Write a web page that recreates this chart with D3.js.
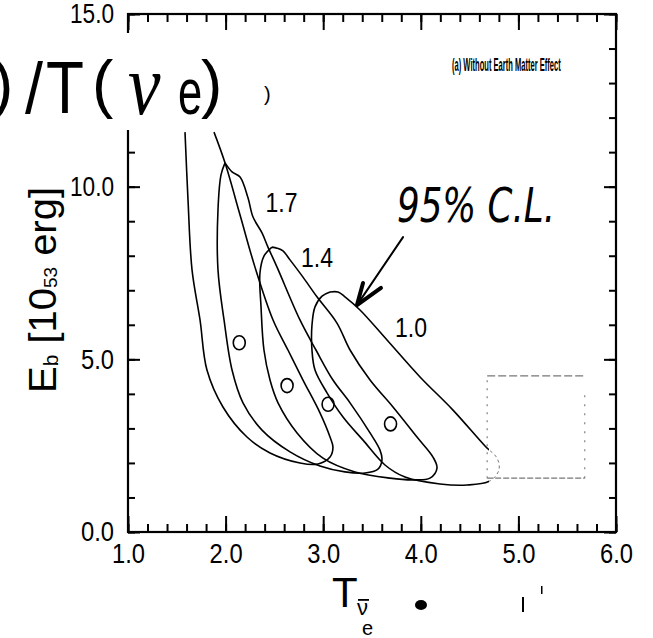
<!DOCTYPE html>
<html>
<head>
<meta charset="utf-8">
<script src="https://cdn.jsdelivr.net/npm/d3@7"></script>
<style>
body { margin: 0; background: #fff; }
svg { display: block; }
</style>
</head>
<body>
<div id="chart"></div>
<script>
const width = 653, height = 638;

// axis ticks
const xMajor = [1, 2, 3, 4, 5, 6];
const yMajor = [0, 5, 10, 15];
const xMinor = d3.range(1, 6.001, 0.2);
const yMinor = d3.range(0, 15.001, 1);

// 95% CL contours, [T, Eb] (peak -> lower side -> tip -> upper side)
const contourOuter = [[1.584, 11.58], [1.615, 9.61], [1.656, 7.59], [1.738, 6.14], [1.809, 4.69], [1.973, 3.62],
  [2.219, 2.75], [2.455, 2.29], [2.762, 2.00], [2.947, 1.97], [3.07, 2.17], [3.10, 2.46], [3.07, 2.75],
  [2.967, 3.45], [2.793, 4.40], [2.639, 5.27], [2.486, 6.14], [2.301, 7.67], [2.148, 9.18], [1.994, 10.69], [1.881, 11.58]];
const contour17 = [[1.994, 10.69], [1.953, 10.34], [1.922, 9.33], [1.922, 7.59], [1.984, 6.14], [2.066, 4.69],
  [2.178, 3.74], [2.373, 2.95], [2.660, 2.32], [2.967, 1.91], [3.223, 1.74], [3.428, 1.71], [3.561, 1.82],
  [3.602, 2.09], [3.582, 2.37], [3.480, 2.87], [3.275, 3.74], [3.100, 4.40], [2.926, 5.27], [2.762, 6.14],
  [2.527, 7.67], [2.434, 8.25], [2.373, 8.66], [2.281, 9.12], [2.230, 9.67], [2.148, 10.28], [2.066, 10.43], [1.994, 10.69]];
const contour14 = [[2.475, 8.25], [2.393, 7.99], [2.352, 7.50], [2.363, 6.52], [2.393, 5.27], [2.455, 4.40],
  [2.537, 3.74], [2.732, 2.87], [2.998, 2.14], [3.326, 1.74], [3.684, 1.56], [3.920, 1.51], [4.094, 1.56],
  [4.166, 1.85], [4.125, 2.17], [3.961, 2.75], [3.715, 3.62], [3.480, 4.40], [3.275, 5.27], [3.141, 6.05],
  [2.936, 6.81], [2.793, 7.38], [2.660, 7.88], [2.588, 8.14], [2.527, 8.22], [2.475, 8.25]];
const contour10 = [[3.070, 6.95], [2.988, 6.83], [2.916, 6.52], [2.885, 5.99], [2.885, 5.27], [2.916, 4.69],
  [3.039, 4.03], [3.203, 3.33], [3.408, 2.66], [3.633, 1.94], [3.838, 1.59], [4.197, 1.39], [4.473, 1.36],
  [4.709, 1.48], [4.801, 1.80], [4.781, 2.14], [4.658, 2.49], [4.330, 3.53], [3.992, 4.49], [3.654, 5.56],
  [3.377, 6.43], [3.223, 6.81], [3.152, 6.95], [3.070, 6.95]];

// best fit points
const bestT = [2.14, 2.63, 3.05, 3.69];
const bestEb = [5.48, 4.24, 3.70, 3.13];

// contour labels
const labelText = ["1.7", "1.4", "1.0"];
const labelT = [2.573, 2.937, 3.900];
const labelEb = [9.27, 7.67, 5.65];

// dashed box
const boxT = [4.68, 5.68];
const boxEb = [1.56, 4.52];

// hand drawn arrow
const arrowTail = [3.818, 8.54];
const arrowTip = [3.346, 6.57];
const arrowBarbs = [[3.408, 7.21], [3.592, 7.07]];

const x = d3.scaleLinear().domain([1, 6]).range([128, 616]);
const y = d3.scaleLinear().domain([0, 15]).range([532, 14]);

const svg = d3.select("#chart")
    .append("svg")
    .attr("width", width)
    .attr("height", height)
    .style("font-family", "'Liberation Sans', Arial, sans-serif");

function ticks(axis, pos, size, labels) {
    const g = svg.append("g")
        .attr("transform", pos)
        .call(axis.tickSize(size).tickSizeOuter(0));
    g.select(".domain").remove();
    g.selectAll("line").attr("stroke", "#000").attr("stroke-width", 2);
    if (!labels) g.selectAll("text").remove();
    return g;
}

// minor ticks
ticks(d3.axisBottom(x).tickValues(xMinor), `translate(0,${y(0)})`, -8, false);
ticks(d3.axisTop(x).tickValues(xMinor), `translate(0,${y(15)})`, -8, false);
ticks(d3.axisLeft(y).tickValues(yMinor), `translate(${x(1)},0)`, -7, false);
ticks(d3.axisRight(y).tickValues(yMinor), `translate(${x(6)},0)`, -7, false);

// major ticks
const xAxis = ticks(d3.axisBottom(x).tickValues(xMajor).tickPadding(11).tickFormat(d3.format(".1f")),
    `translate(0,${y(0)})`, -16, true);
ticks(d3.axisTop(x).tickValues(xMajor), `translate(0,${y(15)})`, -16, false);
const yAxis = ticks(d3.axisLeft(y).tickValues(yMajor).tickPadding(14).tickFormat(d3.format(".1f")),
    `translate(${x(1)},0)`, -12, true);
ticks(d3.axisRight(y).tickValues(yMajor), `translate(${x(6)},0)`, -12, false);

[xAxis, yAxis].forEach(g => {
    g.selectAll("text")
        .attr("font-size", 28)
        .attr("fill", "#000")
        .attr("font-family", "'Liberation Sans', Arial, sans-serif")
        .attr("textLength", function () { return this.textContent.length > 3 ? 44 : 33; })
        .attr("lengthAdjust", "spacingAndGlyphs");
});

// frame
svg.append("rect")
    .attr("x", x(1)).attr("y", y(15))
    .attr("width", x(6) - x(1)).attr("height", y(0) - y(15))
    .attr("fill", "none").attr("stroke", "#000").attr("stroke-width", 2.2);

// pasted-over strip under the handwritten note
svg.append("rect")
    .attr("x", 0).attr("y", 33).attr("width", 300).attr("height", 97)
    .attr("fill", "#fff");

const line = d3.line()
    .x(d => x(d[0]))
    .y(d => y(d[1]))
    .curve(d3.curveCatmullRom.alpha(0.5));

// clip: the tip of the 1.0 contour is faint in the scan
const defs = svg.append("defs");
defs.append("clipPath").attr("id", "solidPart")
    .append("rect").attr("x", 0).attr("y", 0).attr("width", x(4.70)).attr("height", height);
defs.append("clipPath").attr("id", "faintPart")
    .append("rect").attr("x", x(4.70)).attr("y", 0).attr("width", width).attr("height", height);

const contours = svg.append("g")
    .attr("fill", "none")
    .attr("stroke", "#000")
    .attr("stroke-width", 1.6)
    .attr("stroke-linejoin", "round");

[contourOuter, contour17, contour14].forEach(c => {
    contours.append("path").attr("d", line(c));
});
contours.append("path").attr("d", line(contour10)).attr("clip-path", "url(#solidPart)");
contours.append("path").attr("d", line(contour10)).attr("clip-path", "url(#faintPart)")
    .attr("stroke", "#777").attr("stroke-width", 1).attr("stroke-dasharray", "3,3");

// best fit markers
svg.append("g")
    .selectAll("ellipse")
    .data(bestT)
    .enter()
    .append("ellipse")
    .attr("cx", d => x(d))
    .attr("cy", (d, i) => y(bestEb[i]))
    .attr("rx", 6)
    .attr("ry", 7)
    .attr("fill", "none")
    .attr("stroke", "#000")
    .attr("stroke-width", 1.6);

// ratio labels
svg.append("g")
    .selectAll("text")
    .data(labelText)
    .enter()
    .append("text")
    .attr("x", (d, i) => x(labelT[i]))
    .attr("y", (d, i) => y(labelEb[i]))
    .attr("text-anchor", "middle")
    .attr("font-size", 28)
    .attr("textLength", 32)
    .attr("lengthAdjust", "spacingAndGlyphs")
    .text(d => d);

// theory box
const box = svg.append("g").attr("fill", "none").attr("stroke", "#777").attr("stroke-width", 1.1);
box.append("line").attr("x1", x(boxT[0])).attr("x2", x(boxT[1])).attr("y1", y(boxEb[1])).attr("y2", y(boxEb[1]))
    .attr("stroke-dasharray", "8,3");
box.append("line").attr("x1", x(boxT[0])).attr("x2", x(boxT[1])).attr("y1", y(boxEb[0])).attr("y2", y(boxEb[0]))
    .attr("stroke-dasharray", "6,2");
box.append("line").attr("x1", x(boxT[0])).attr("x2", x(boxT[0])).attr("y1", y(boxEb[0])).attr("y2", y(boxEb[1]))
    .attr("stroke-dasharray", "2,6");
box.append("line").attr("x1", x(boxT[1])).attr("x2", x(boxT[1])).attr("y1", y(boxEb[0])).attr("y2", y(boxEb[1]) + 18)
    .attr("stroke-dasharray", "2,7");

// panel title, condensed bold
svg.append("text")
    .attr("transform", `translate(${x(4.32)},${y(13.36)}) scale(0.42,1)`)
    .attr("font-size", 18)
    .attr("font-weight", "bold")
    .text("(a) Without Earth Matter Effect");

// axis titles
const yTitle = svg.append("text")
    .attr("transform", "translate(56,290) rotate(-90)")
    .attr("text-anchor", "middle")
    .attr("font-size", 38)
    .attr("textLength", 206)
    .attr("lengthAdjust", "spacingAndGlyphs");
yTitle.append("tspan").text("E");
yTitle.append("tspan").attr("font-size", 20).attr("dy", 2).text("b");
yTitle.append("tspan").attr("dy", -2).text(" [10");
yTitle.append("tspan").attr("font-size", 18).attr("dy", 1).text("53");
yTitle.append("tspan").attr("dy", -1).text(" erg]");

svg.append("text").attr("x", 332).attr("y", 607).attr("font-size", 42).text("T");
svg.append("text").attr("x", 357).attr("y", 615).attr("font-size", 22).text("\u03bd");
svg.append("rect").attr("x", 358).attr("y", 599).attr("width", 11).attr("height", 1.8);
svg.append("text").attr("x", 362).attr("y", 635).attr("font-size", 20).text("e");

// handwritten note at top left
function glyph(txt, gx, gy, size, sx, family, style) {
    svg.append("text")
        .attr("transform", `translate(${gx},${gy}) scale(${sx},1)`)
        .attr("font-size", size)
        .attr("font-family", family || "'Liberation Sans', Arial, sans-serif")
        .attr("font-style", style || "normal")
        .text(txt);
}
glyph(")", -8, 106, 64, 1);
glyph("/", 25, 113, 72, 0.9);
glyph("T", 46, 113, 74, 0.84);
glyph("(", 92, 106, 64, 1);
glyph("\u03bd", 128, 114, 86, 0.85, "'Liberation Serif', 'Times New Roman', serif", "italic");
glyph("e", 178, 114, 64, 0.68);
glyph(")", 201, 106, 64, 1);
glyph(")", 264, 101, 20, 1);
glyph(")", -6, 566, 20, 1);

// handwritten 95% C.L. with arrow
svg.append("text")
    .attr("x", 397).attr("y", 222)
    .attr("font-size", 48)
    .attr("font-family", "'DejaVu Sans', sans-serif")
    .attr("font-weight", 200)
    .attr("font-style", "oblique")
    .attr("textLength", 158)
    .attr("lengthAdjust", "spacingAndGlyphs")
    .text("95% C.L.");

const arrow = svg.append("g").attr("fill", "none").attr("stroke", "#000").attr("stroke-linecap", "round");
arrow.append("path")
    .attr("d", d3.line().x(d => x(d[0])).y(d => y(d[1]))([arrowTail, arrowTip]))
    .attr("stroke-width", 2);
arrow.append("path")
    .attr("d", d3.line().x(d => x(d[0])).y(d => y(d[1]))([arrowBarbs[0], arrowTip, arrowBarbs[1]]))
    .attr("stroke-width", 4)
    .attr("stroke-linejoin", "round");

// scan specks below the axis
const specks = svg.append("g").attr("fill", "#000");
specks.append("ellipse").attr("cx", 421).attr("cy", 605).attr("rx", 6).attr("ry", 5);
specks.append("rect").attr("x", 522).attr("y", 597).attr("width", 2).attr("height", 15);
specks.append("rect").attr("x", 541).attr("y", 586).attr("width", 1.5).attr("height", 8);
</script>
</body>
</html>
